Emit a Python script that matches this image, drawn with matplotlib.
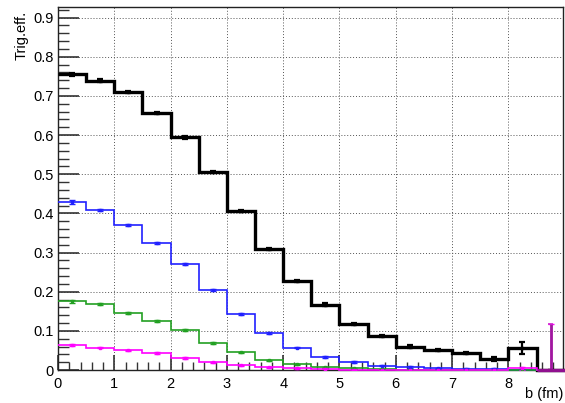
import numpy as np
import matplotlib
matplotlib.use("Agg")
import matplotlib.pyplot as plt
from matplotlib.ticker import MultipleLocator, FixedLocator

plt.rcParams['font.family'] = ['Liberation Sans', 'DejaVu Sans']

bin_edges = np.arange(0, 9.01, 0.5)

black_vals = [0.755, 0.739, 0.710, 0.656, 0.594, 0.505, 0.406, 0.309, 0.227,
              0.167, 0.117, 0.086, 0.060, 0.051, 0.044, 0.028, 0.056, 0.0]
black_err = [0.004, 0.003, 0.003, 0.003, 0.003, 0.003, 0.003, 0.003, 0.003,
             0.003, 0.003, 0.003, 0.003, 0.003, 0.003, 0.006, 0.016, 0.0]

blue_vals = [0.429, 0.408, 0.370, 0.325, 0.270, 0.204, 0.143, 0.094, 0.057,
             0.033, 0.020, 0.011, 0.008, 0.004, 0.003, 0.002, 0.0, 0.0]
blue_err = [0.004, 0.003, 0.003, 0.002, 0.002, 0.002, 0.002, 0.002, 0.002,
            0.002, 0.002, 0.002, 0.002, 0.002, 0.002, 0.002, 0.0, 0.0]

green_vals = [0.175, 0.168, 0.145, 0.125, 0.102, 0.069, 0.045, 0.025, 0.015,
              0.007, 0.004, 0.002, 0.001, 0.0, 0.0, 0.0, 0.0, 0.0]
green_err = [0.003, 0.003, 0.002, 0.002, 0.002, 0.002, 0.002, 0.001, 0.001,
             0.001, 0.001, 0.001, 0.001, 0.0, 0.0, 0.0, 0.0, 0.0]

magenta_vals = [0.064, 0.057, 0.050, 0.044, 0.031, 0.020, 0.012, 0.007, 0.004,
                0.003, 0.001, 0.001, 0.0, 0.0, 0.0, 0.0, 0.004, 0.0]
magenta_err = [0.003, 0.002, 0.002, 0.002, 0.002, 0.001, 0.001, 0.001, 0.001,
               0.001, 0.001, 0.0, 0.0, 0.0, 0.0, 0.0, 0.004, 0.117]

x_ticks = [0, 1, 2, 3, 4, 5, 6, 7, 8]
y_ticks = [0, 0.1, 0.2, 0.3, 0.4, 0.5, 0.6, 0.7, 0.8, 0.9]
y_tick_labels = ["0", "0.1", "0.2", "0.3", "0.4", "0.5", "0.6", "0.7", "0.8", "0.9"]

fig = plt.figure(figsize=(5.65, 4.03), dpi=100)
ax = fig.add_axes([58/565, 1 - 370/403, (563 - 58)/565, (370 - 7)/403])
ax.set_xlim(0, 8.97)
ax.set_ylim(0, 0.927)

centers = 0.5 * (bin_edges[:-1] + bin_edges[1:])

series = [
    (black_vals, black_err, '#000000', 2.4),
    (blue_vals, blue_err, '#2020ff', 1.2),
    (green_vals, green_err, '#22a022', 1.2),
    (magenta_vals, magenta_err, '#ff00ff', 1.2),
]

for vals, errs, col, lw in series:
    ax.stairs(vals, bin_edges, color=col, linewidth=lw, baseline=None,
              zorder=3, clip_on=False)
    thick = lw > 2
    ax.errorbar(centers, vals, yerr=errs, fmt='s', color=col,
                markersize=2.0 if thick else 1.6,
                elinewidth=1.6 if thick else 1.0, capsize=2.5 if thick else 2,
                capthick=1.6 if thick else 1.0, zorder=4, clip_on=True)

# last-bin spike: magenta over black zero-level bin, appears purple
ax.vlines(centers[-1], 0, magenta_err[-1], color='#a0189f', linewidth=2.0, zorder=5)
ax.hlines(magenta_err[-1], centers[-1] - 0.05, centers[-1] + 0.05, color='#d020d0',
          linewidth=1.2, zorder=5)
ax.hlines(0.0, bin_edges[-2], bin_edges[-1], color='#90108f', linewidth=2.4,
          zorder=5, clip_on=False)

ax.xaxis.set_major_locator(FixedLocator(x_ticks))
ax.xaxis.set_minor_locator(MultipleLocator(0.2))
ax.set_yticks(y_ticks)
ax.set_yticklabels(y_tick_labels)
ax.yaxis.set_minor_locator(MultipleLocator(0.02))

ax.tick_params(axis='both', which='both', direction='in', top=False, right=False,
               labelsize=10.5, color='#333333')
ax.tick_params(axis='x', which='major', length=11, width=1.2, pad=5)
ax.tick_params(axis='x', which='minor', length=5.5, width=1.0)
ax.tick_params(axis='y', which='major', length=15, width=1.2, pad=3)
ax.tick_params(axis='y', which='minor', length=8, width=1.0)

ax.grid(True, which='major', linestyle=(0, (1, 2)), color='#555555', linewidth=0.7)
ax.set_axisbelow(True)

for sp in ax.spines.values():
    sp.set_linewidth(1.0)
    sp.set_color('#222222')

fig.text(563/565, 1 - 401/403, "b (fm)", ha='right', va='bottom', fontsize=10.5)
fig.text(15/565, 1 - 11/403, "Trig.eff.", ha='left', va='top', rotation=90, fontsize=10.5)

fig.savefig("out.png", dpi=100)
